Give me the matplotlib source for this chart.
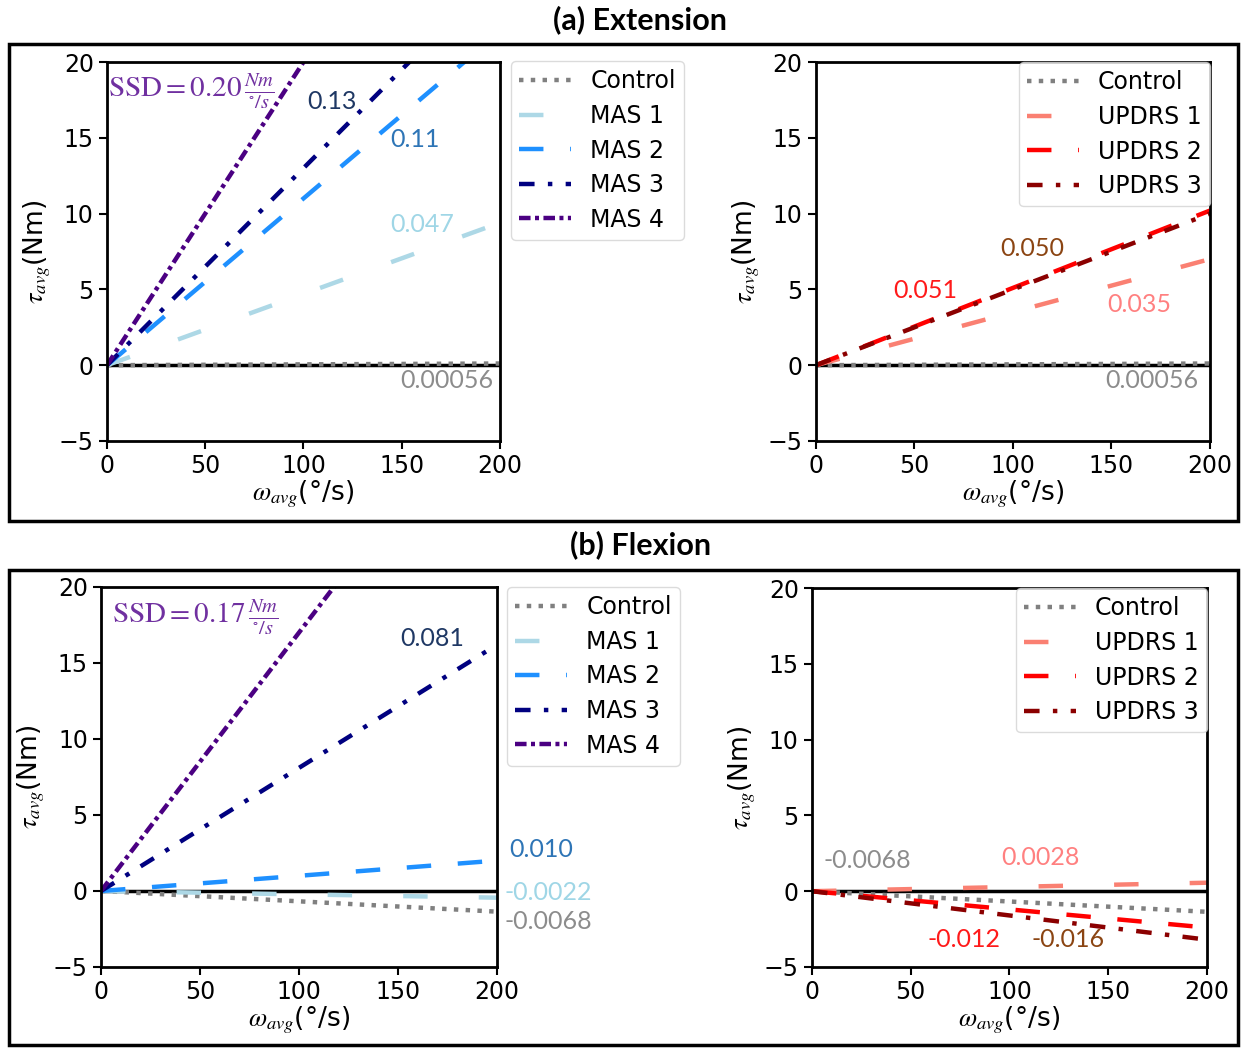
import numpy as np
import matplotlib
matplotlib.use("Agg")
import matplotlib.pyplot as plt
from matplotlib.patches import Rectangle

plt.rcParams["font.size"] = 17
plt.rcParams["mathtext.fontset"] = "stix"

# angular speed range of the fitted lines (deg/s)
speed_range = [0, 200]

mas_labels = ["Control", "MAS 1", "MAS 2", "MAS 3", "MAS 4"]
updrs_labels = ["Control", "UPDRS 1", "UPDRS 2", "UPDRS 3"]

# fitted slopes tau/omega (Nm per deg/s)
ext_mas_slopes = [0.00056, 0.047, 0.11, 0.13, 0.20]
ext_updrs_slopes = [0.00056, 0.035, 0.051, 0.050]
flex_mas_slopes = [-0.0068, -0.0022, 0.010, 0.081, 0.17]
flex_updrs_slopes = [-0.0068, 0.0028, -0.012, -0.016]

ext_ssd = "0.20"
flex_ssd = "0.17"

# line styles per group
mas_styles = [
    dict(color="grey", ls=(0, (1, 1.65))),
    dict(color="lightblue", ls=(0, (5.5, 11.5))),
    dict(color="dodgerblue", ls=(0, (5.5, 6))),
    dict(color="navy", ls=(0, (3.5, 3, 1, 3))),
    dict(color="indigo", ls=(0, (2.6, 1, 0.9, 1))),
]
updrs_styles = [
    dict(color="grey", ls=(0, (1, 1.65))),
    dict(color="salmon", ls=(0, (5.5, 11.5))),
    dict(color="red", ls=(0, (5.5, 6))),
    dict(color="darkred", ls=(0, (3.5, 3, 1, 3))),
]

C_GREY = "#8c8c8c"
C_DKBLUE = "#1f3864"
C_MIDBLUE = "#2e75b6"
C_LTBLUE = "#9fd6e6"
C_PURPLE = "#7030a0"
C_BROWN = "#8b4513"
C_RED = "#ff1a1a"
C_PINK = "#ff8080"

ANNOT_FONT = "Lato"
ANNOT_SIZE = 18


def draw_panel(ax, slopes, labels, styles):
    x = np.array(speed_range, dtype=float)
    ax.axhline(0, color="black", lw=2.5, zorder=1.5)
    handles = []
    for s, lab, st in zip(slopes, labels, styles):
        h, = ax.plot(x, s * x, lw=3.2, color=st["color"], linestyle=st["ls"],
                     label=lab, zorder=2)
        handles.append(h)
    ax.set_xlim(0, 200)
    ax.set_ylim(-5, 20)
    ax.set_xticks([0, 50, 100, 150, 200])
    ax.set_yticks([-5, 0, 5, 10, 15, 20])
    ax.set_xlabel(r"$\omega_{avg}$(°/s)", fontsize=19, labelpad=0)
    ax.set_ylabel(r"$\tau_{avg}$(Nm)", fontsize=19, labelpad=4)
    for sp in ax.spines.values():
        sp.set_linewidth(2)
    ax.tick_params(width=1.5, length=6)
    return handles


def note(ax, x, y, txt, color):
    ax.text(x, y, txt, color=color, fontsize=ANNOT_SIZE, family=ANNOT_FONT,
            ha="left", va="center")


def ssd_note(ax, x, y, val):
    ax.text(x, y, r"$\mathrm{SSD} = %s\,\frac{Nm}{^{\circ}/s}$" % val,
            color=C_PURPLE, fontsize=21, ha="left", va="center")


fig = plt.figure(figsize=(12.44, 10.48), dpi=100)

# section frames
for y0, h in [(0.5029, 0.4552), (0.0029, 0.4532)]:
    fig.patches.append(Rectangle((0.0072, y0), 0.9879, h, transform=fig.transFigure,
                                 fill=False, lw=2.5, edgecolor="black"))

fig.text(0.5145, 0.981, "(a) Extension", ha="center", va="center",
         fontsize=22, fontweight="bold", family="Lato")
fig.text(0.515, 0.48, "(b) Flexion", ha="center", va="center",
         fontsize=22, fontweight="bold", family="Lato")

leg_kw = dict(fontsize=17, handlelength=2.2, handletextpad=0.8,
              labelspacing=0.45, borderpad=0.35, edgecolor="lightgrey")

# (a) extension, MAS
ax1 = fig.add_axes([0.0860, 0.5792, 0.3159, 0.3616])
h1 = draw_panel(ax1, ext_mas_slopes, mas_labels, mas_styles)
ax1.legend(handles=h1, loc="upper left", bbox_to_anchor=(0.4108, 0.9418),
           bbox_transform=fig.transFigure, borderaxespad=0, **leg_kw)
ssd_note(ax1, 0.5, 18.1, ext_ssd)
note(ax1, 102, 17.4, "0.13", C_DKBLUE)
note(ax1, 144, 14.9, "0.11", C_MIDBLUE)
note(ax1, 144, 9.3, "0.047", C_LTBLUE)
note(ax1, 149, -1.0, "0.00056", C_GREY)

# (a) extension, UPDRS
ax2 = fig.add_axes([0.6559, 0.5792, 0.3167, 0.3616])
h2 = draw_panel(ax2, ext_updrs_slopes, updrs_labels, updrs_styles)
ax2.legend(handles=h2, loc="upper right", borderaxespad=0, **leg_kw)
note(ax2, 93.4, 7.7, "0.050", C_BROWN)
note(ax2, 39, 4.9, "0.051", C_RED)
note(ax2, 148, 4.0, "0.035", C_PINK)
note(ax2, 146.7, -1.0, "0.00056", C_GREY)

# (b) flexion, MAS
ax3 = fig.add_axes([0.0812, 0.0773, 0.3183, 0.3626])
h3 = draw_panel(ax3, flex_mas_slopes, mas_labels, mas_styles)
ax3.legend(handles=h3, loc="upper left", bbox_to_anchor=(0.4076, 0.4399),
           bbox_transform=fig.transFigure, borderaxespad=0, **leg_kw)
ssd_note(ax3, 5.6, 18.0, flex_ssd)
note(ax3, 151, 16.6, "0.081", C_DKBLUE)
note(ax3, 206, 2.7, "0.010", C_MIDBLUE)
note(ax3, 204, -0.13, "-0.0022", C_LTBLUE)
note(ax3, 204, -2.0, "-0.0068", C_GREY)

# (b) flexion, UPDRS
ax4 = fig.add_axes([0.6527, 0.0773, 0.3175, 0.3616])
h4 = draw_panel(ax4, flex_updrs_slopes, updrs_labels, updrs_styles)
ax4.legend(handles=h4, loc="upper right", borderaxespad=0, **leg_kw)
note(ax4, 5.6, 2.0, "-0.0068", C_GREY)
note(ax4, 96, 2.2, "0.0028", C_PINK)
note(ax4, 58.7, -3.2, "-0.012", C_RED)
note(ax4, 111, -3.2, "-0.016", C_BROWN)

fig.savefig("out.png", dpi=100)
